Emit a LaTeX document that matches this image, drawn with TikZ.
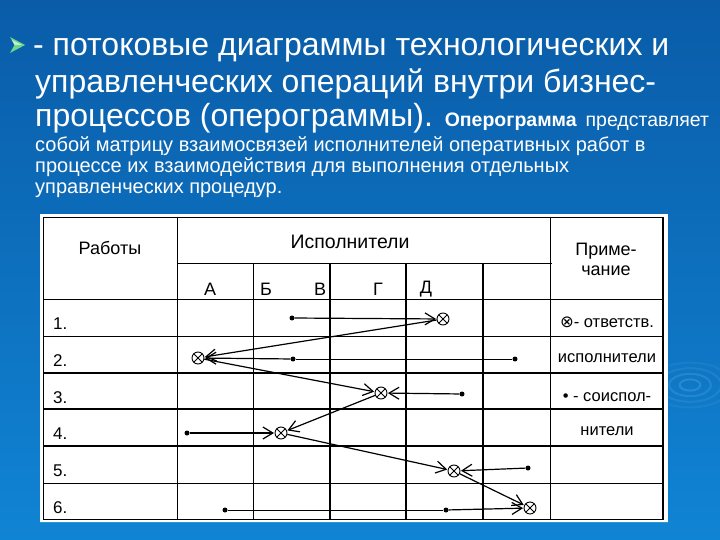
\documentclass[tikz,border=0pt]{standalone}
\usepackage{fontspec}
\setmainfont{Liberation Sans}
\newfontfamily\symfont{DejaVu Sans}
\usetikzlibrary{arrows.meta}
\definecolor{bgtop}{RGB}{10,92,168}
\definecolor{bgbot}{RGB}{16,132,212}
\definecolor{bulletgreen}{RGB}{110,214,140}
\tikzset{
  big/.style={text=white, font=\fontsize{32}{35}\selectfont, inner sep=0pt},
  small/.style={text=white, font=\fontsize{20}{23}\selectfont, inner sep=0pt},
  thin line/.style={line width=0.9pt, black},
  thick line/.style={line width=1.7pt, black},
  hdr/.style={font=\fontsize{18}{20}\selectfont, inner sep=0pt},
  rowlab/.style={font=\fontsize{17}{19}\selectfont, inner sep=0pt, anchor=west},
  note/.style={font=\fontsize{16.5}{19}\selectfont, inner sep=0pt},
  resp/.style={circle, draw, line width=0.9pt, minimum size=12pt, inner sep=0pt,
    path picture={\draw[line width=0.9pt] (path picture bounding box.north west) -- (path picture bounding box.south east)
      (path picture bounding box.north east) -- (path picture bounding box.south west);}},
  dot/.style={circle, fill, minimum size=5pt, inner sep=0pt},
  flow/.style={line width=1.2pt, -{Straight Barb[length=10pt,width=12pt,line width=1.2pt]}, shorten >=0.5pt},
  plain/.style={line width=1pt}
}
\begin{document}
\begin{tikzpicture}[x=1pt,y=-1pt]
\useasboundingbox (0,0) rectangle (720,540);
\shade[top color=bgtop, bottom color=bgbot] (0,0) rectangle (720,540);
% faint ripples
\foreach \r/\o in {8/0.12,16/0.10,24/0.07,32/0.05}
  \draw[white, opacity=\o, line width=2pt] (690,385) ellipse ({\r*1.3} and {\r*0.7});
% bullet
\fill[bulletgreen] (10,37) -- (25,45) -- (10,53) -- (14.5,45) -- cycle;
\fill[white, opacity=0.6] (12,40) -- (22,45) -- (14.5,45) -- cycle;
% heading text
\node[big, anchor=base west] (l1) at (33,56) {- потоковые диаграммы технологических и};
\node[big, anchor=base west] (l2) at (35,93) {управленческих операций внутри бизнес-};
\node[big, anchor=base west] (l3) at (35,127) {процессов (оперограммы). {\fontsize{19.5}{21}\selectfont\bfseries Оперограмма} {\fontsize{19.5}{21}\selectfont представляет}};
\node[small, anchor=base west] (l4) at (35,152) {собой матрицу взаимосвязей исполнителей оперативных работ в};
\node[small, anchor=base west] (l5) at (35,173) {процессе их взаимодействия для выполнения отдельных};
\node[small, anchor=base west] (l6) at (35,194) {управленческих процедур.};
% table
\fill[white] (40,214) rectangle (668,522);
\draw[cyan!60!teal, line width=1pt] (40,522.5) -- (668,522.5);
% grid
\draw[thin line] (43,217) rectangle (663,519);
\draw[thick line] (663,217) -- (663,519);
\draw[thin line] (177,263) -- (552,263);
\draw[thin line] (177,217) -- (177,519);
\draw[thin line] (253,263) -- (253,519);
\draw[thick line] (330,263) -- (330,519);
\draw[thick line] (406,263) -- (406,519);
\draw[thick line] (483,263) -- (483,519);
\draw[thin line] (550,217) -- (550,519);
\draw[thin line] (43,299) -- (663,299);
\draw[thin line] (43,336) -- (663,336);
\draw[thick line] (43,373) -- (663,373);
\draw[thick line] (43,409) -- (663,409);
\draw[thick line] (43,446) -- (663,446);
\draw[thin line] (43,483) -- (663,483);
% headers
\node[hdr] (hw) at (110,248) {Работы};
\node[hdr, font=\fontsize{19.5}{21}\selectfont] (he) at (350,242) {Исполнители};
\node[hdr] (hn1) at (606,251) {Приме-};
\node[hdr] (hn2) at (606,271) {чание};
\node[hdr] (cA) at (210,289) {А};
\node[hdr] (cB) at (266,289) {Б};
\node[hdr] (cV) at (320,289) {В};
\node[hdr] (cG) at (378,289) {Г};
\node[hdr] (cD) at (426,289) {Д};
% row labels
\node[rowlab] (r1) at (53,324) {1.};
\node[rowlab] (r2) at (53,361) {2.};
\node[rowlab] (r3) at (53,398) {3.};
\node[rowlab] (r4) at (53,434) {4.};
\node[rowlab] (r5) at (53,471) {5.};
\node[rowlab] (r6) at (53,508) {6.};
% notes
\node[note] (n1) at (607,322) {{\symfont ⊗}- ответств.};
\node[note] (n2) at (607,358) {исполнители};
\node[note] (n3) at (607,397) {• - соиспол-};
\node[note] (n4) at (607,431) {нители};
% marks
\node[dot] (d1) at (292,318) {};
\node[resp] (x1) at (443,319) {};
\node[resp] (x2) at (198,358) {};
\node[dot] (d2a) at (293,359) {};
\node[dot] (d2b) at (515,359) {};
\node[resp] (x3) at (381,393) {};
\node[dot] (d3) at (462,394) {};
\node[resp] (x4) at (281,433) {};
\node[dot] (d4) at (187,433) {};
\node[resp] (x5) at (454,471) {};
\node[dot] (d5) at (528,468) {};
\node[resp] (x6) at (530,508) {};
\node[dot] (d6a) at (225,510) {};
\node[dot] (d6b) at (446,510) {};
% connectors
\draw[flow] (d1) -- (x1);
\draw[flow] (x1) -- (x2);
\draw[plain] (d2b) -- (d2a);
\draw[flow] (d2a) -- (x2);
\draw[flow] (x2) -- (x3);
\draw[flow] (d3) -- (x3);
\draw[flow] (x3) -- (x4);
\draw[flow] (d4) -- (x4);
\draw[flow] (x4) -- (x5);
\draw[flow] (d5) -- (x5);
\draw[flow] (x5) -- (x6);
\draw[plain] (d6a) -- (d6b);
\draw[flow] (d6b) -- (x6);
\end{tikzpicture}
\end{document}
